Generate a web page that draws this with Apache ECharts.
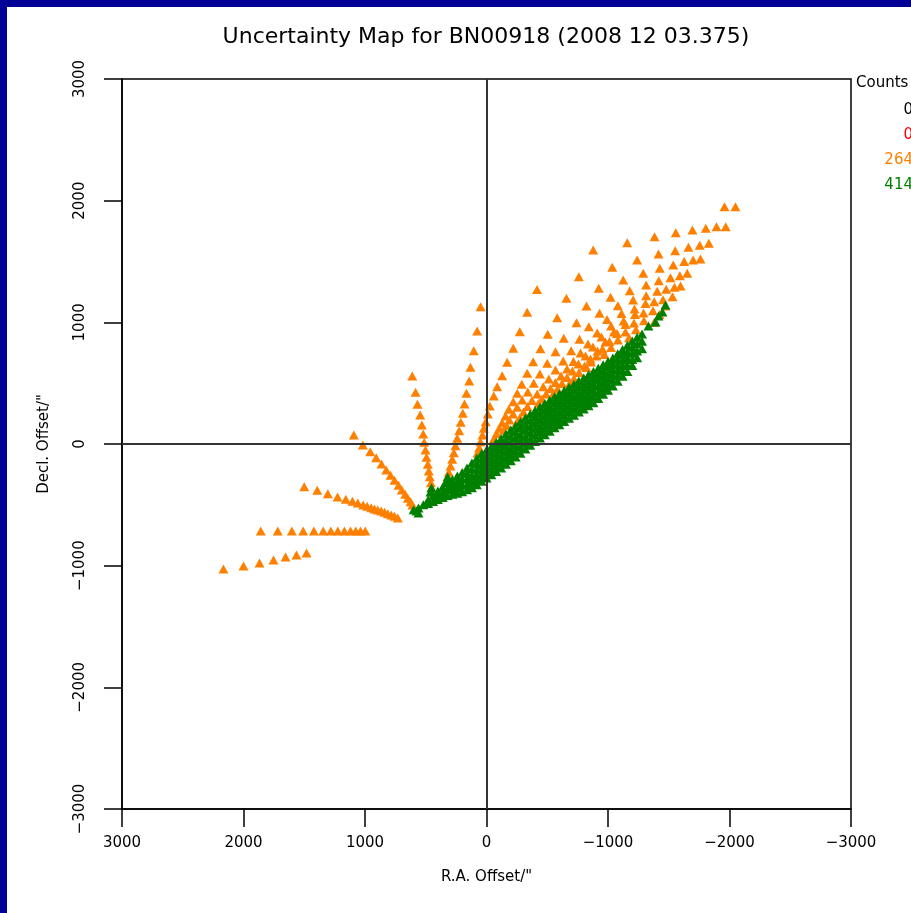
<!DOCTYPE html>
<html><head><meta charset="utf-8">
<script src="https://cdn.jsdelivr.net/npm/echarts/dist/echarts.min.js"></script>
<style>html,body{margin:0;padding:0;background:#fff}#c{width:911px;height:913px}</style>
</head><body><div id="c"></div><script>
// ---- chart text ----
const titleText = 'Uncertainty Map for BN00918 (2008 12 03.375)';
const xName = 'R.A. Offset/"';
const yName = 'Decl. Offset/"';
const legendTitle = 'Counts';
const legendLabels = ['0', '0', '264', '414'];
const legendColors = ['#000000', '#ff0000', '#ff8000', '#008000'];

// ---- orange (264 counts) points, [RA offset, Decl offset] ----
const rayA = [[2165,-1027],[2000,-1002],[1868,-978],[1753,-953],[1654,-929],[1564,-912],[1481,-896]];
const rayB = [[1858,-715],[1718,-715],[1602,-715],[1509,-715],[1421,-715],[1344,-715],[1281,-715],[1224,-715],[1169,-715],[1119,-715],[1076,-715],[1037,-715],[998,-715]];
const rayC = [[1500,-351],[1393,-381],[1306,-409],[1226,-436],[1158,-455],[1103,-471],[1059,-485],[1015,-501],[982,-512],[949,-524],[922,-534],[895,-543],[867,-551],[839,-561],[812,-573],[784,-584],[757,-594],[730,-608]];
const rayD = [[1092,74],[1018,-8],[957,-63],[908,-113],[864,-164],[825,-214],[790,-257],[757,-298],[724,-339],[697,-378],[669,-413],[648,-446],[625,-474],[609,-501]];
const rayE = [[611,559],[584,425],[568,326],[546,238],[532,156],[521,82],[513,14],[502,-49],[494,-109],[483,-167],[475,-222],[467,-269],[458,-318],[453,-359],[447,-400]];
const rayF = [[49,1129],[77,929],[105,767],[132,630],[142,518],[165,417],[181,329],[195,252],[212,178],[225,109],[241,47],[255,-14],[269,-72],[282,-126],[296,-181],[310,-233],[321,-282]];
const rayG = [[-416,1270],[-335,1083],[-274,923],[-220,787],[-170,672],[-129,561],[-88,471],[-60,395],[-27,312],[-11,247],[6,183],[22,129],[33,74],[49,19],[60,-30],[74,-74]];
const rayH = [[-878,1595],[-760,1375],[-658,1198],[-582,1038],[-504,902],[-444,783],[-384,677],[-335,581],[-290,491],[-253,417],[-220,348],[-184,285],[-156,230],[-129,175],[-105,129],[-82,85],[-62,45]];
const rayI = [[-1158,1655],[-1035,1453],[-924,1280],[-823,1134],[-741,997],[-636,869],[-568,759],[-500,663],[-439,575],[-389,499],[-340,427],[-294,362],[-253,302],[-220,247],[-189,197],[-165,152],[-142,112]];
const rayJ = [[-1383,1704],[-1240,1512],[-1125,1348],[-1021,1206],[-930,1074],[-842,964],[-765,861],[-697,767],[-631,682],[-568,608],[-513,534],[-467,471],[-417,411],[-374,358],[-337,308],[-305,263],[-276,218],[-250,180]];
const rayK = [[-1558,1737],[-1416,1562],[-1290,1403],[-1179,1260],[-1081,1137],[-992,1023],[-911,912],[-835,822],[-774,748],[-716,678],[-663,617],[-613,559],[-568,506],[-527,456],[-490,411],[-457,370],[-428,334]];
const rayL = [[-1695,1759],[-1553,1589],[-1426,1444],[-1314,1307],[-1207,1184],[-1111,1073],[-1025,970],[-946,880],[-876,797],[-815,723],[-757,658],[-708,600],[-663,547],[-621,497],[-584,452],[-551,415]];
const rayM = [[-1959,1951],[-1805,1773],[-1662,1617],[-1537,1471],[-1418,1342],[-1314,1219],[-1218,1110],[-1128,1011],[-1049,921],[-979,838],[-914,764],[-856,699],[-807,641],[-761,588],[-720,538],[-684,497]];
const rayN = [[-2049,1951],[-1893,1786],[-1755,1633],[-1627,1499],[-1514,1367],[-1405,1255],[-1309,1155],[-1222,1064],[-1144,982],[-1074,908],[-1012,843],[-955,781],[-905,723],[-860,674],[-823,629]];
const rayO = [[-1969,1786],[-1830,1650],[-1701,1512],[-1591,1383],[-1479,1272],[-1380,1169],[-1292,1077],[-1214,995],[-1144,921],[-1082,855],[-1025,793],[-971,736]];
const rayP = [[-1761,1521],[-1652,1403],[-1547,1288],[-1453,1185],[-1370,1095],[-1296,1013],[-1230,939],[-1173,873]];
const rayQ = [[-1597,1299],[-1531,1211],[-1473,1134],[-1424,1064],[-1379,999]];

// ---- green (414 counts) points: RA columns with their Decl values ----
const greenRA = [560,520,480,440,400,360,320,280,240,200,160,120,80,40,0,-40,-80,-120,-160,-200,-240,-280,-320,-360,-400,-440,-480,-520,-560,-600,-640,-680,-720,-760,-800,-840,-880,-920,-960,-1000,-1040,-1080,-1120,-1160,-1200,-1240,-1280];
const greenDec = [
  [-527],
  [-500],
  [-490,-458],
  [-473,-425],
  [-456,-421,-387],
  [-439,-396,-353],
  [-423,-372,-321],
  [-414,-373,-333,-292],
  [-405,-358,-311,-263],
  [-393,-340,-287,-234],
  [-377,-332,-287,-242,-197],
  [-360,-309,-258,-208,-157],
  [-334,-290,-247,-204,-160,-117],
  [-307,-261,-216,-170,-125,-79],
  [-280,-234,-188,-141,-95,-49],
  [-253,-206,-159,-112,-65,-18],
  [-225,-177,-130,-82,-35,13],
  [-197,-148,-100,-51,-3,46],
  [-167,-117,-67,-18,32,82],
  [-137,-86,-36,15,66,117],
  [-106,-55,-4,48,99,150],
  [-75,-24,28,79,131,182],
  [-42,9,60,112,163,214],
  [-10,41,92,144,195,246],
  [21,72,123,174,225,276],
  [49,100,151,202,253,304],
  [77,128,179,230,281,332],
  [105,156,207,258,309,360],
  [133,184,235,286,337,388],
  [159,210,261,312,363,414],
  [185,236,287,338,389,440],
  [211,262,313,364,415,466],
  [237,288,339,390,441,492],
  [263,314,365,416,467,518],
  [288,339,390,441,492,543],
  [314,365,416,467,518,569],
  [340,391,442,493,544,595],
  [374,424,474,524,574,623],
  [408,457,505,554,602,651],
  [442,489,537,584,632,679],
  [477,523,569,615,661,707],
  [516,561,606,651,697,742],
  [556,600,644,689,733,777],
  [596,650,704,758,812],
  [645,695,746,796,846],
  [709,765,822,878],
  [783,844,905]
];
const greenExtra = [[-1333,970],[-1391,1003],[-1416,1052],[-1448,1085],[-1473,1143],[461,-395],[453,-360],[329,-304],[320,-270],[576,-551],[560,-567],[600,-540]];

const orange = [].concat(rayA, rayB, rayC, rayD, rayE, rayF, rayG, rayH, rayI, rayJ, rayK, rayL, rayM, rayN, rayO, rayP, rayQ);
const green = [];
greenRA.forEach((ra, i) => greenDec[i].forEach(d => green.push([ra, d])));
greenExtra.forEach(p => green.push(p));

const FONT = 'DejaVu Sans';
const fmt = v => String(v).replace('-', '\u2212');
const chart = echarts.init(document.getElementById('c'), null, {renderer: 'canvas'});

const legendGraphics = [{type:'text', left:856, top:76, style:{text:legendTitle, font:'15px ' + FONT, fill:'#000'}}];
legendLabels.forEach((t, i) => legendGraphics.push({
  type:'text', x:913, y:110 + i*25,
  style:{text:t, font:'15px ' + FONT, fill:legendColors[i], textAlign:'right', textVerticalAlign:'middle'}
}));

chart.setOption({
  backgroundColor: '#ffffff',
  animation: false,
  grid: {left:122, top:79, width:729, height:730, show:true, borderColor:'#000', borderWidth:1.5, backgroundColor:'transparent'},
  xAxis: {
    type:'value', min:-3000, max:3000, interval:1000, inverse:true,
    name:xName, nameLocation:'middle', nameGap:61,
    nameTextStyle:{fontFamily:FONT, fontSize:15, color:'#000'},
    axisLine:{show:true, onZero:false, lineStyle:{color:'#000', width:1.5}},
    axisTick:{show:true, inside:false, length:18, lineStyle:{color:'#000', width:1.5}},
    axisLabel:{margin:27, fontFamily:FONT, fontSize:15, color:'#000', formatter:fmt},
    splitLine:{show:false}
  },
  yAxis: {
    type:'value', min:-3000, max:3000, interval:1000,
    name:yName, nameLocation:'middle', nameGap:70, nameRotate:90,
    nameTextStyle:{fontFamily:FONT, fontSize:15, color:'#000'},
    axisLine:{show:true, onZero:false, lineStyle:{color:'#000', width:1.5}},
    axisTick:{show:true, inside:false, length:18, lineStyle:{color:'#000', width:1.5}},
    axisLabel:{rotate:90, margin:34, fontFamily:FONT, fontSize:15, color:'#000', formatter:fmt},
    splitLine:{show:false}
  },
  graphic: [
    {type:'rect', left:0, top:0, shape:{width:911, height:7}, style:{fill:'#000096'}, z:100},
    {type:'rect', left:0, top:0, shape:{width:7, height:913}, style:{fill:'#000096'}, z:100},
    {type:'text', x:486, y:37, style:{text:titleText, font:'22px ' + FONT, fill:'#000', textAlign:'center', textVerticalAlign:'middle'}}
  ].concat(legendGraphics),
  series: [
    {type:'scatter', data:[], z:1, silent:true,
     markLine:{silent:true, symbol:['none','none'], label:{show:false},
       lineStyle:{color:'#333', width:2, type:'solid'},
       data:[{xAxis:0},{yAxis:0}]}},
    {type:'scatter', data:orange, symbol:'triangle', symbolSize:[10,9], z:2,
     itemStyle:{color:'#ff8000', opacity:1}},
    {type:'scatter', data:green, symbol:'triangle', symbolSize:[10,9], z:3,
     itemStyle:{color:'#008000', opacity:1}}
  ]
});
</script></body></html>
